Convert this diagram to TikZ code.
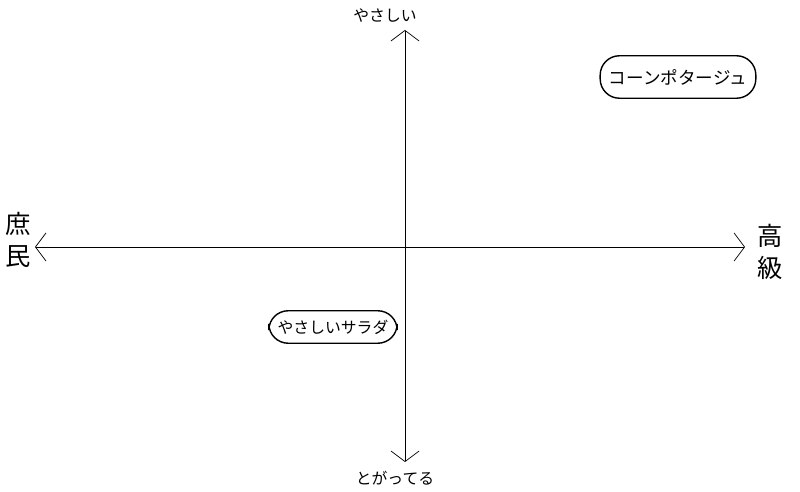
\documentclass[tikz,border=0pt]{standalone}
\usepackage{fontspec}
\newfontfamily\jp{Noto Sans CJK JP}
\usetikzlibrary{arrows.meta}

\begin{document}
\begin{tikzpicture}[x=0.02cm,y=-0.02cm,
        every node/.style={font=\jp},
        axis/.style={draw=black,thin,{Straight Barb[length=6pt,width=16pt]}-{Straight Barb[length=6pt,width=16pt]}},
        item/.style={rectangle,rounded corners=11pt,draw=black,thick,inner xsep=5pt}]
    \useasboundingbox (0,0) rectangle (800,492);

    % axis ends
    \coordinate (L) at (35,247);
    \coordinate (R) at (745,247);
    \coordinate (T) at (405,30);
    \coordinate (B) at (405,462);

    \path [axis] (L) -- (R);
    \path [axis] (B) -- (T);

    \node (top) at (385,16) {\small やさしい};
    \node (bottom) at (395,478) {\small とがってる};
    \node[align=center,font=\jp\Large,inner sep=0pt] (left) at (18,240) {庶\\民};
    \node[align=center,font=\jp\Large,inner sep=0pt] (right) at (770,252) {高\\級};

    \node[item,minimum height=0.85cm] (corn) at (678,77) {コーンポタージュ};
    \node[item,minimum height=0.65cm,font=\jp\small] (salad) at (333,327) {やさしいサラダ};
\end{tikzpicture}
\end{document}
